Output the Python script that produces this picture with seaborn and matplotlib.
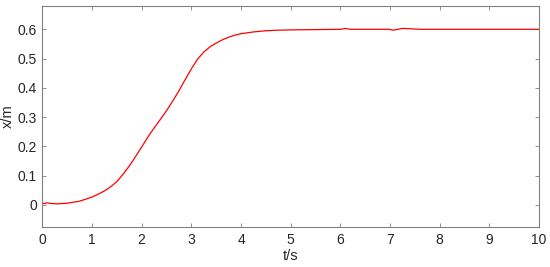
import matplotlib
matplotlib.use("Agg")
import matplotlib.pyplot as plt
import pandas as pd
import seaborn as sns

# Displacement response
t_s = [0.0, 0.05, 0.1, 0.2, 0.3, 0.5, 0.75, 1.0, 1.125, 1.25, 1.375, 1.5,
       1.625, 1.75, 1.875, 2.0, 2.125, 2.25, 2.375, 2.5, 2.625, 2.75, 2.875,
       3.0, 3.125, 3.25, 3.375, 3.5, 3.625, 3.75, 3.875, 4.0, 4.25, 4.5,
       4.75, 5.0, 5.5, 6.0, 6.05, 6.1, 6.2, 6.5, 7.0, 7.05, 7.1, 7.25, 7.4,
       7.6, 8.0, 9.0, 10.0]
x_m = [0.004, 0.006, 0.007, 0.005, 0.004, 0.006, 0.013, 0.027, 0.037, 0.048,
       0.062, 0.080, 0.105, 0.133, 0.165, 0.198, 0.232, 0.263, 0.292, 0.322,
       0.355, 0.390, 0.428, 0.465, 0.498, 0.522, 0.540, 0.553, 0.564, 0.573,
       0.580, 0.585, 0.591, 0.595, 0.597, 0.598, 0.599, 0.600, 0.601, 0.603,
       0.600, 0.600, 0.600, 0.597, 0.598, 0.603, 0.602, 0.600, 0.600, 0.600,
       0.600]

xticks = list(range(0, 11))
yticks = [0, 0.1, 0.2, 0.3, 0.4, 0.5, 0.6]
ytick_labels = ["0", "0.1", "0.2", "0.3", "0.4", "0.5", "0.6"]

sns.set_theme(style="white")
plt.rcParams["font.family"] = ["Liberation Sans", "DejaVu Sans"]

fig, ax = plt.subplots(figsize=(5.5, 2.67), dpi=100)
df = pd.DataFrame({"t": t_s, "x": x_m})
sns.lineplot(data=df, x="t", y="x", color="#ff0000", linewidth=0.9, ax=ax)

ax.set_xlim(0, 10)
ax.set_ylim(-0.075, 0.68)
ax.set_xticks(xticks)
ax.set_yticks(yticks)
ax.set_yticklabels(ytick_labels)
ax.set_xlabel("t/s", fontsize=10.5, color="#262626", labelpad=2)
ax.set_ylabel("x/m", fontsize=10.5, color="#262626", labelpad=2)

for sp in ax.spines.values():
    sp.set_color("#808080")
    sp.set_linewidth(0.8)
ax.tick_params(direction="in", length=3, width=0.6, color="#808080",
               labelsize=10, labelcolor="#262626", top=True, right=True,
               bottom=True, left=True, pad=4)

fig.subplots_adjust(left=0.077, right=0.98, top=0.978, bottom=0.15)
fig.savefig("out.png", dpi=100)
